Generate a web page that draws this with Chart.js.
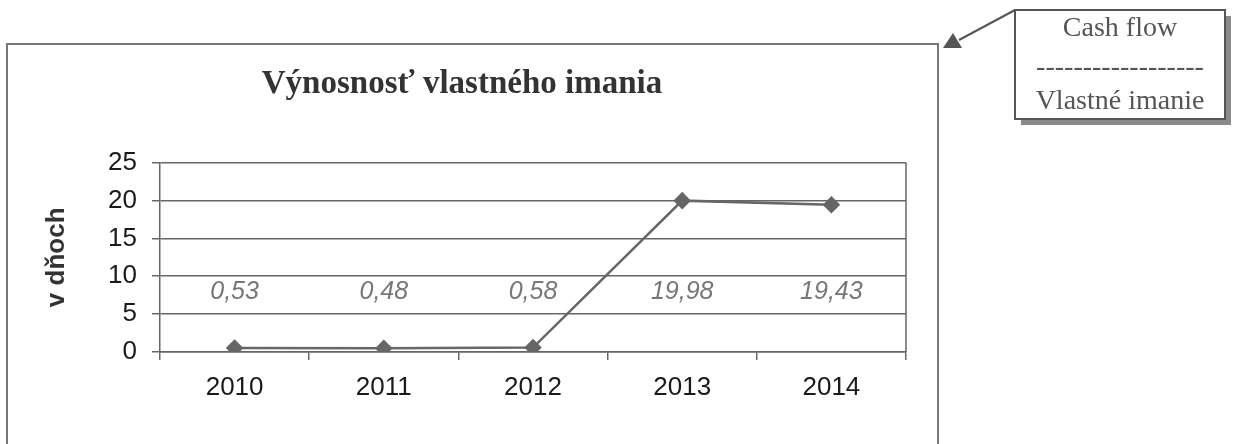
<!DOCTYPE html>
<html>
<head>
<meta charset="utf-8">
<title>Výnosnosť vlastného imania</title>
<script src="https://cdn.jsdelivr.net/npm/chart.js@4.4.0/dist/chart.umd.min.js"></script>
<style>
  html, body { margin: 0; padding: 0; background: #fff; }
  #roe { display: block; }
</style>
</head>
<body>
<canvas id="roe" width="1239" height="444"></canvas>
<script>
// data
const years = ["2010", "2011", "2012", "2013", "2014"];
const roeDays = [0.53, 0.48, 0.58, 19.98, 19.43];
const yTicks = [0, 5, 10, 15, 20, 25];
const calloutLines = ["Cash flow", "------------------", "Vlastné imanie"];

const SANS = '"Liberation Sans", Arial, sans-serif';
const SERIF = '"Liberation Serif", "Times New Roman", serif';
const GRID = "#666";
const LABEL_LEVEL = 7.9; // value labels sit on one line inside the plot

const valueLabels = {
	id: "valueLabels",
	afterDatasetsDraw(chart) {
		const { ctx, scales: { x, y } } = chart;
		ctx.save();
		ctx.font = "italic 25px " + SANS;
		ctx.fillStyle = "#777";
		ctx.textAlign = "center";
		ctx.textBaseline = "middle";
		roeDays.forEach((v, i) => {
			ctx.fillText(v.toFixed(2).replace(".", ","), x.getPixelForValue(i), y.getPixelForValue(LABEL_LEVEL));
		});
		ctx.restore();
	},
};

const decor = {
	id: "decor",
	beforeDraw(chart) {
		const ctx = chart.ctx;
		ctx.save();
		// outer chart frame
		ctx.strokeStyle = "#777";
		ctx.lineWidth = 2;
		ctx.strokeRect(7, 44, 931, 430);

		// callout box with shadow
		ctx.fillStyle = "#8a8a8a";
		ctx.fillRect(1021, 16, 210, 109);
		ctx.fillStyle = "#fff";
		ctx.fillRect(1015, 10, 210, 109);
		ctx.strokeStyle = "#555";
		ctx.strokeRect(1015, 10, 210, 109);

		ctx.fillStyle = "#555";
		ctx.font = "28px " + SERIF;
		ctx.textAlign = "center";
		ctx.textBaseline = "alphabetic";
		ctx.fillText(calloutLines[0], 1120, 36);
		ctx.fillText(calloutLines[1], 1120, 75);
		ctx.fillText(calloutLines[2], 1120, 109);

		// pointer from the callout to the frame corner
		ctx.strokeStyle = "#555";
		ctx.lineWidth = 2;
		ctx.beginPath();
		ctx.moveTo(959, 40);
		ctx.lineTo(1015, 10);
		ctx.stroke();
		ctx.beginPath();
		ctx.moveTo(953, 33);
		ctx.lineTo(943, 48);
		ctx.lineTo(962, 48);
		ctx.closePath();
		ctx.fill();
		ctx.restore();
	},
	beforeDatasetsDraw(chart) {
		const { ctx, chartArea: a } = chart;
		ctx.save();
		ctx.strokeStyle = GRID;
		ctx.lineWidth = 1.5;
		ctx.beginPath();
		ctx.moveTo(a.right, a.top);
		ctx.lineTo(a.right, a.bottom);
		ctx.stroke();
		ctx.restore();
	},
};

new Chart(document.getElementById("roe"), {
	type: "line",
	data: {
		labels: years,
		datasets: [
			{
				label: "Výnosnosť vlastného imania",
				data: roeDays,
				borderColor: "#666",
				borderWidth: 2.5,
				backgroundColor: "#666",
				pointStyle: "rectRot",
				pointRadius: 7,
				pointBorderColor: "#666",
				pointBackgroundColor: "#666",
				tension: 0,
			},
		],
	},
	options: {
		responsive: false,
		devicePixelRatio: 1,
		animation: false,
		layout: {
			padding: { left: 18, right: 333, top: 44, bottom: 22 },
		},
		plugins: {
			legend: { display: false },
			tooltip: { enabled: false },
			title: {
				display: true,
				text: "Výnosnosť vlastného imania",
				color: "#333",
				font: { family: SERIF, size: 33, weight: "bold" },
				padding: { top: 21, bottom: 58 },
			},
		},
		scales: {
			x: {
				offset: true,
				grid: {
					offset: true,
					drawOnChartArea: false,
					tickLength: 8,
					tickColor: GRID,
					lineWidth: 1.5,
				},
				border: { color: GRID, width: 1.5 },
				ticks: {
					color: "#1a1a1a",
					font: { family: SANS, size: 26 },
					padding: 12,
					maxRotation: 0,
				},
				afterFit(scale) {
					scale.height = 70;
				},
			},
			y: {
				min: yTicks[0],
				max: yTicks[yTicks.length - 1],
				ticks: {
					stepSize: yTicks[1] - yTicks[0],
					color: "#1a1a1a",
					font: { family: SANS, size: 26 },
					padding: 15,
				},
				grid: {
					color: GRID,
					lineWidth: 1.5,
					tickLength: 8,
					tickColor: GRID,
				},
				border: { color: GRID, width: 1.5 },
				title: {
					display: true,
					text: "v dňoch",
					color: "#333",
					font: { family: SANS, size: 26, weight: "bold" },
					padding: { top: 23, bottom: 0 },
				},
				afterFit(scale) {
					scale.width = 142;
				},
			},
		},
	},
	plugins: [decor, valueLabels],
});
</script>
</body>
</html>
